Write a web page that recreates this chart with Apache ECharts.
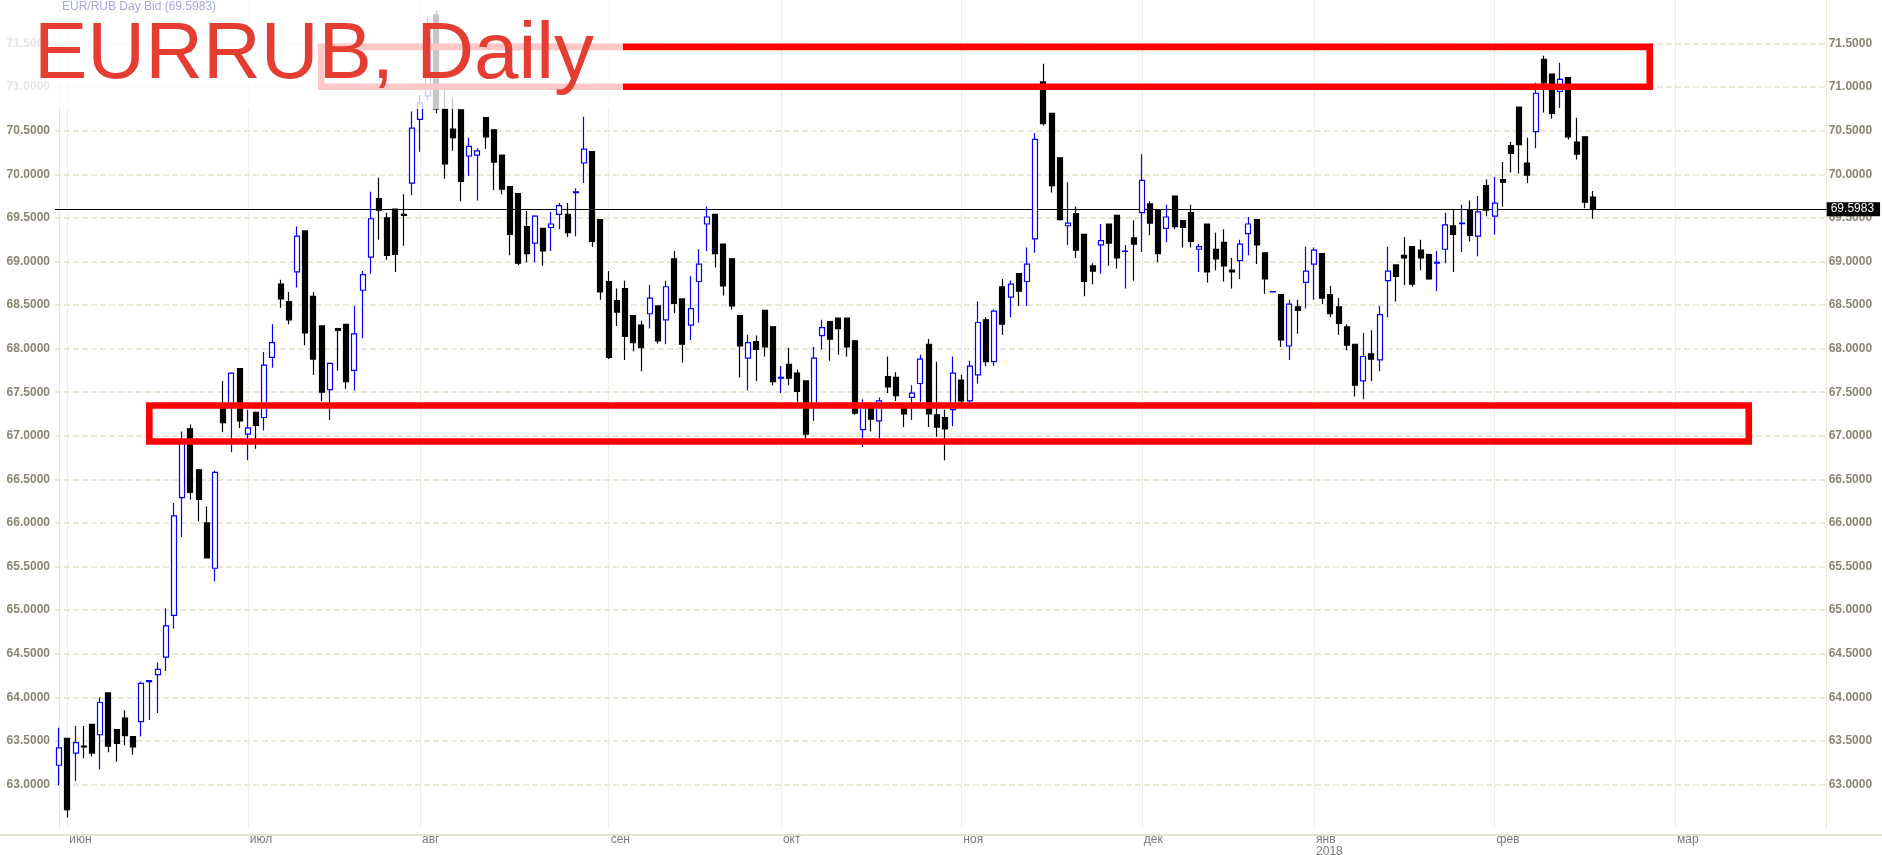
<!DOCTYPE html>
<html><head><meta charset="utf-8">
<script src="https://cdn.jsdelivr.net/npm/echarts@6/dist/echarts.min.js"></script>
<style>html,body{margin:0;padding:0;background:#fff}#c{width:1882px;height:855px}</style>
</head><body><div id="c"></div>
<script>
// ---- data ----
const opens = [63.22,63.53,63.36,63.44,63.69,63.57,64.05,63.63,63.76,63.55,63.72,64.18,64.26,64.46,64.94,66.29,67.08,66.61,66.00,65.48,
67.35,67.33,67.77,67.02,67.27,67.21,67.90,68.74,68.54,68.88,69.35,68.60,68.26,67.53,68.23,68.28,67.75,68.67,69.05,69.72,
69.50,69.60,69.54,69.90,70.63,70.90,71.83,70.75,70.52,70.74,70.21,70.22,70.65,70.51,70.22,69.86,69.78,69.40,69.21,69.38,
69.39,69.54,69.54,69.79,70.13,70.26,69.48,68.77,68.55,68.69,68.38,68.27,68.40,68.49,68.33,69.03,68.57,68.27,68.77,69.43,
69.54,69.20,69.03,68.38,67.89,68.08,68.44,68.25,67.66,67.82,67.72,67.63,67.33,68.15,68.31,68.35,68.35,68.09,67.07,67.35,
67.17,67.68,67.67,67.35,67.44,67.60,68.05,67.24,67.21,67.30,67.64,67.40,67.70,68.33,67.85,68.71,68.59,68.86,68.77,69.26,
71.06,70.70,70.19,69.41,69.55,69.31,68.95,69.19,69.43,69.53,69.115,69.27,69.56,69.66,69.59,69.38,69.75,69.47,69.56,69.14,
69.43,69.14,69.22,68.90,69.01,69.32,69.48,69.10,68.65,68.62,68.03,68.48,68.76,68.97,69.09,68.62,68.48,68.25,68.05,67.63,
67.94,67.87,68.78,68.96,69.07,69.17,69.13,69.08,68.98,69.14,69.41,69.435,69.59,69.29,69.87,69.52,69.94,70.33,70.77,70.13,
70.49,71.32,71.15,70.95,71.11,70.37,70.43,69.74];
const closes = [63.42,62.71,63.48,63.43,63.36,63.94,63.44,63.47,63.56,63.43,64.16,64.19,64.32,64.82,66.08,66.95,66.35,66.27,65.60,66.58,
67.15,67.72,67.17,67.09,67.12,67.81,68.07,68.57,68.33,69.29,68.18,67.88,67.50,67.83,68.21,67.62,68.17,68.85,69.49,69.59,
69.07,69.08,69.53,70.53,70.82,71.55,70.75,70.12,70.42,69.92,70.32,70.27,70.43,70.14,69.83,69.31,68.98,69.09,69.52,69.12,
69.43,69.64,69.33,69.80,70.29,69.23,68.65,67.90,68.42,68.14,68.07,68.01,68.58,68.09,68.71,68.52,68.05,68.46,68.97,69.51,
69.09,68.72,68.49,68.03,68.07,67.99,68.02,67.62,67.67,67.66,67.51,67.02,67.89,68.24,68.11,68.23,68.02,67.26,67.37,67.19,
67.40,67.56,67.46,67.25,67.49,67.88,67.25,67.10,67.08,67.72,67.40,67.80,68.30,67.85,68.43,68.28,68.74,68.66,68.97,70.40,
70.58,69.87,69.48,69.44,69.13,68.77,68.89,69.24,69.21,69.04,69.12,69.20,69.93,69.44,69.09,69.51,69.40,69.39,69.23,69.17,
68.88,69.03,68.95,68.88,69.20,69.43,69.19,68.80,68.655,68.10,68.51,68.44,68.89,69.13,68.58,68.40,68.29,68.04,67.58,67.91,
67.88,68.39,68.89,68.83,69.04,68.74,69.04,68.80,68.99,69.42,69.31,69.44,69.30,69.57,69.59,69.67,69.91,70.24,70.34,69.99,
70.93,71.05,70.70,71.09,70.43,70.23,69.68,69.5983];
const lows = [62.99,62.62,63.04,63.30,63.32,63.17,63.37,63.26,63.45,63.34,63.55,63.74,63.82,64.30,64.79,65.84,66.27,66.02,65.60,65.33,
67.04,66.81,67.09,66.72,66.85,67.06,67.78,68.47,68.28,68.70,68.04,67.70,67.40,67.18,67.75,67.54,67.52,68.12,68.86,69.25,
69.02,68.88,69.18,69.76,70.26,70.85,70.70,69.95,70.27,69.69,69.98,69.70,70.29,69.82,69.77,69.07,68.96,68.99,68.99,68.95,
69.12,69.37,69.28,69.29,69.90,69.17,68.56,67.88,68.26,67.87,67.97,67.74,68.23,68.06,68.05,68.41,67.84,68.10,68.30,69.12,
68.93,68.61,68.45,67.67,67.52,67.63,67.91,67.58,67.49,67.58,67.39,66.97,67.17,67.99,67.86,67.93,67.91,67.24,66.87,67.05,
66.97,67.49,67.40,67.10,67.18,67.39,67.10,66.99,66.72,67.11,67.35,67.33,67.60,67.80,67.80,68.16,68.36,68.49,68.49,69.10,
70.56,69.79,69.47,69.19,69.04,68.60,68.74,68.86,68.95,68.92,68.69,68.78,69.11,69.30,68.99,69.22,69.37,69.16,69.16,68.88,
68.76,68.90,68.77,68.69,68.80,69.07,68.97,68.63,68.645,68.02,67.87,68.17,68.46,68.56,68.51,68.36,68.16,67.98,67.45,67.42,
67.63,67.74,68.36,68.54,68.73,68.71,68.90,68.79,68.66,68.98,68.88,69.11,69.23,69.06,69.52,69.31,69.63,70.02,70.01,69.90,
70.30,70.71,70.64,70.76,70.40,70.17,69.61,69.49];
const highs = [63.65,63.53,63.67,63.67,63.69,64.00,64.05,63.63,63.85,63.55,64.18,64.19,64.40,65.02,66.23,67.05,67.13,66.61,66.19,66.60,
67.63,67.73,67.77,67.30,67.28,67.96,68.28,68.79,68.65,69.40,69.35,68.65,68.26,67.84,68.24,68.28,68.49,68.89,69.80,69.96,
69.56,69.60,69.77,70.72,70.91,71.80,71.88,71.00,70.88,70.74,70.42,70.30,70.65,70.51,70.22,69.86,69.78,69.58,69.53,69.38,
69.57,69.67,69.67,69.84,70.66,70.26,69.48,68.89,68.69,68.78,68.38,68.32,68.73,68.49,68.78,69.12,68.57,68.83,69.14,69.63,
69.54,69.20,69.03,68.38,68.16,68.15,68.44,68.25,67.80,68.01,67.76,67.63,68.02,68.33,68.31,68.35,68.35,68.09,67.42,67.38,
67.44,67.91,67.73,67.37,67.58,67.93,68.11,67.85,67.30,67.91,67.70,67.86,68.54,68.36,68.45,68.80,68.78,68.86,69.16,70.47,
71.27,70.70,70.19,69.91,69.63,69.31,68.98,69.43,69.43,69.53,69.19,69.47,70.23,69.69,69.59,69.65,69.75,69.47,69.65,69.20,
69.43,69.33,69.37,69.04,69.25,69.51,69.48,69.10,68.66,68.62,68.56,68.56,69.17,69.16,69.09,68.72,68.58,68.28,68.05,68.18,
68.21,68.49,69.17,68.96,69.28,69.17,69.25,69.09,69.12,69.56,69.59,69.65,69.70,69.75,69.94,69.97,70.14,70.37,70.77,70.42,
71.05,71.36,71.15,71.28,71.11,70.65,70.43,69.81];
const lastPrice = 69.5983;
const monthNames = {'01':'янв\n2018','02':'фев','03':'мар','06':'июн','07':'июл','08':'авг','09':'сен','10':'окт','11':'ноя','12':'дек'};
const firstDay = '2017-05-31';
const skippedDays = ['2018-01-01'];
const slotCount = 216;
// zones: [fromIndex, topValue, toIndex, bottomValue]
const zones = [[31.97, 71.462, 193.93, 71.004], [11.0, 67.348, 206.0, 66.935]];
const headerText = 'EUR/RUB Day Bid (69.5983)';
const titleText = 'EURRUB, Daily';

// ---- categories: trading days for the bars, then calendar days for the empty future part ----
const categories = [];
{
  const d = new Date(firstDay + 'T00:00:00Z');
  while (categories.length < slotCount) {
    const s = d.toISOString().slice(0, 10), w = d.getUTCDay();
    const future = categories.length >= opens.length;
    if (future || (w !== 0 && w !== 6 && !skippedDays.includes(s))) categories.push(s);
    d.setUTCDate(d.getUTCDate() + 1);
  }
}
const monthStart = categories.map((c, i) => i > 0 && c.slice(5, 7) !== categories[i - 1].slice(5, 7));
const monthIdx = monthStart.map((v, i) => v ? i : -1).filter(i => i >= 0);
const candles = categories.map((c, i) => i < opens.length ? [opens[i], closes[i], lows[i], highs[i]] : '-');

const axisLabelColor = '#8a8573';
const yAxisCommon = {
  type: 'value', min: 62.5, max: 72, interval: 0.5, scale: true,
  axisTick: {show: false},
  axisLine: {show: true, lineStyle: {color: '#e4e0cc', type: 'dotted', width: 1}},
  axisLabel: {formatter: v => v.toFixed(4), color: axisLabelColor, fontSize: 12, fontWeight: 'bold',
    fontFamily: 'Liberation Sans, Arial, sans-serif', showMinLabel: false, showMaxLabel: false}
};

const chart = echarts.init(document.getElementById('c'), null, {renderer: 'canvas'});
chart.setOption({
  animation: false,
  backgroundColor: '#ffffff',
  grid: {left: 55, right: 55.3, top: 0, bottom: 27, containLabel: false, outerBoundsMode: 'none'},
  xAxis: [{
    type: 'category', data: categories, boundaryGap: true,
    axisLine: {show: false}, axisTick: {show: false}, splitLine: {show: false},
    axisLabel: {
      interval: (i) => monthStart[i],
      formatter: (v) => monthNames[v.slice(5, 7)],
      align: 'left', color: '#7a7a7a', fontSize: 12, margin: 6, lineHeight: 12,
      fontFamily: 'Liberation Sans, Arial, sans-serif', padding: [0, 0, 0, 2]
    }
  }, {
    type: 'value', min: -0.5, max: slotCount - 0.5, show: false
  }],
  yAxis: [
    Object.assign({}, yAxisCommon, {position: 'left',
      axisLabel: Object.assign({}, yAxisCommon.axisLabel, {margin: 5}),
      splitLine: {show: true, showMinLine: false, showMaxLine: false,
        lineStyle: {color: '#ebe7d6', type: [6, 3], width: 2}}}),
    Object.assign({}, yAxisCommon, {position: 'right',
      axisLabel: Object.assign({}, yAxisCommon.axisLabel, {margin: 2}),
      splitLine: {show: false}})
  ],
  series: [{
    type: 'candlestick', data: candles, barWidth: 5.5, z: 3,
    itemStyle: {color: '#ffffff', color0: '#000000', borderColor: '#0000ff', borderColor0: '#000000', borderWidth: 1.2},
    markLine: {
      silent: true, symbol: ['none', 'none'], animation: false, z: 1,
      label: {show: false},
      data: monthIdx.map(i => ({xAxis: i, lineStyle: {type: 'dotted', color: '#e0dcc6', width: 1}})).concat([{
        yAxis: lastPrice,
        lineStyle: {type: 'solid', color: '#000000', width: 1},
        label: {show: true, position: 'end', formatter: lastPrice.toFixed(4), distance: 0,
          backgroundColor: '#000000', color: '#ffffff', padding: [1, 6, 1, 4], fontSize: 12,
          fontFamily: 'Liberation Sans, Arial, sans-serif'}
      }])
    }
  }, {
    type: 'custom', xAxisIndex: 1, yAxisIndex: 0, silent: true, z: 5, clip: false,
    encode: {x: [0, 2], y: [1, 3]},
    data: zones,
    renderItem: (params, api) => {
      const p1 = api.coord([api.value(0), api.value(1)]);
      const p2 = api.coord([api.value(2), api.value(3)]);
      return {type: 'rect', shape: {x: p1[0], y: p1[1], width: p2[0] - p1[0], height: p2[1] - p1[1]},
        style: {fill: 'none', stroke: '#ff0000', lineWidth: 6.6}};
    }
  }],
  graphic: [
    {type: 'rect', z: 100, silent: true, shape: {x: 0, y: 0, width: 623, height: 109},
      style: {fill: 'rgba(255,255,255,0.78)'}},
    {type: 'text', z: 101, silent: true, x: 62, y: 1,
      style: {text: headerText, fill: '#a3a9e3', fontSize: 12, fontFamily: 'Liberation Sans, Arial, sans-serif', verticalAlign: 'top'}},
    {type: 'text', z: 101, silent: true, x: 34, y: 16,
      style: {text: titleText, fill: '#e53d32', fontSize: 80, fontFamily: 'Liberation Sans, Arial, sans-serif', verticalAlign: 'top'}},
    {type: 'line', z: 101, silent: true, shape: {x1: 0, y1: 835, x2: 1882, y2: 835},
      style: {stroke: '#e7e3d3', lineWidth: 2}}
  ]
});
</script></body></html>
